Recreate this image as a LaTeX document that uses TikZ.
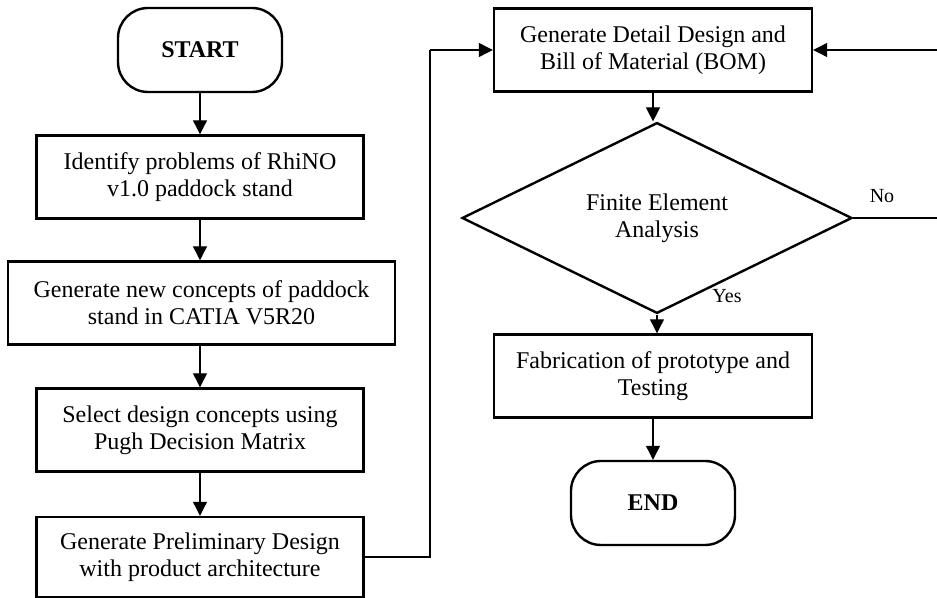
\documentclass[tikz,border=0pt]{standalone}
\usepackage{fontspec}
\setmainfont{Liberation Serif}
\usepackage{tikz}
\usetikzlibrary{shapes.geometric,arrows.meta}
\tikzstyle{flowChart} = [x = .5pt, y = -.5pt]
\tikzstyle{stepText} = [font=\fontsize{12}{13.5}\selectfont, align=center]
\tikzstyle{processStyle} = [draw, line width=1.2pt, stepText, minimum height=41.5pt, inner sep=0pt]
\tikzstyle{terminalStyle} = [draw, line width=1.2pt, rounded corners=15pt, font=\fontsize{12}{13.5}\selectfont\bfseries, minimum width=82pt, minimum height=42pt]
\tikzstyle{decisionStyle} = [draw, diamond, line width=1.2pt, stepText, minimum width=195pt, minimum height=77pt, inner sep=0pt]
\tikzstyle{flowArrow} = [line width=.6pt, -{Triangle[length=7pt,width=7pt]}]
\tikzstyle{flowLine} = [line width=.6pt]
\tikzstyle{branchText} = [font=\fontsize{10}{12}\selectfont]
\newcommand{\processWidthSmall}{163.5pt}
\newcommand{\processWidthLarge}{193.5pt}
\newcommand{\processWidthRight}{159pt}

\begin{document}
\begin{tikzpicture}[flowChart]
  \useasboundingbox (0,0) rectangle (937,598);
  % left column
  \node [terminalStyle] (start) at (200,50) {START};
  \node [processStyle, minimum width=\processWidthSmall] (identify) at (200,177) {Identify problems of RhiNO\\v1.0 paddock stand};
  \node [processStyle, minimum width=\processWidthLarge] (concepts) at (201.5,303) {Generate new concepts of paddock\\stand in CATIA V5R20};
  \node [processStyle, minimum width=\processWidthSmall] (select) at (200,430) {Select design concepts using\\Pugh Decision Matrix};
  \node [processStyle, minimum width=\processWidthSmall, minimum height=40pt] (prelim) at (200,557) {Generate Preliminary Design\\with product architecture};
  % right column
  \node [processStyle, minimum width=\processWidthRight] (detail) at (653,50) {Generate Detail Design and\\Bill of Material (BOM)};
  \node [decisionStyle] (fea) at (657,218) {Finite Element\\Analysis};
  \node [processStyle, minimum width=\processWidthRight] (fabricate) at (653,376) {Fabrication of prototype and\\Testing};
  \node [terminalStyle] (end) at (653,503) {END};
  \coordinate (leftTurn) at (430,50);
  \coordinate (rightTurn) at (940,50);
  % connectors
  \draw [flowArrow] (start) -- (identify);
  \draw [flowArrow] (identify) -- (concepts.north -| identify);
  \draw [flowArrow] (concepts.south -| identify) -- (select);
  \draw [flowArrow] (select) -- (prelim);
  \draw [flowLine] (prelim.east) -| (leftTurn);
  \draw [flowArrow] (leftTurn) -- (detail.west);
  \draw [flowArrow] (detail) -- (detail |- fea.north);
  \draw [flowArrow] (fea.south) -- (fabricate.north -| fea.south);
  \draw [flowArrow] (fabricate) -- (end);
  \draw [flowLine] (fea.east) -| (rightTurn);
  \draw [flowArrow] (rightTurn) -- (detail.east);
  \node [branchText] (yesLabel) at (727,296) {Yes};
  \node [branchText] (noLabel) at (882,196) {No};
\end{tikzpicture}
\end{document}
